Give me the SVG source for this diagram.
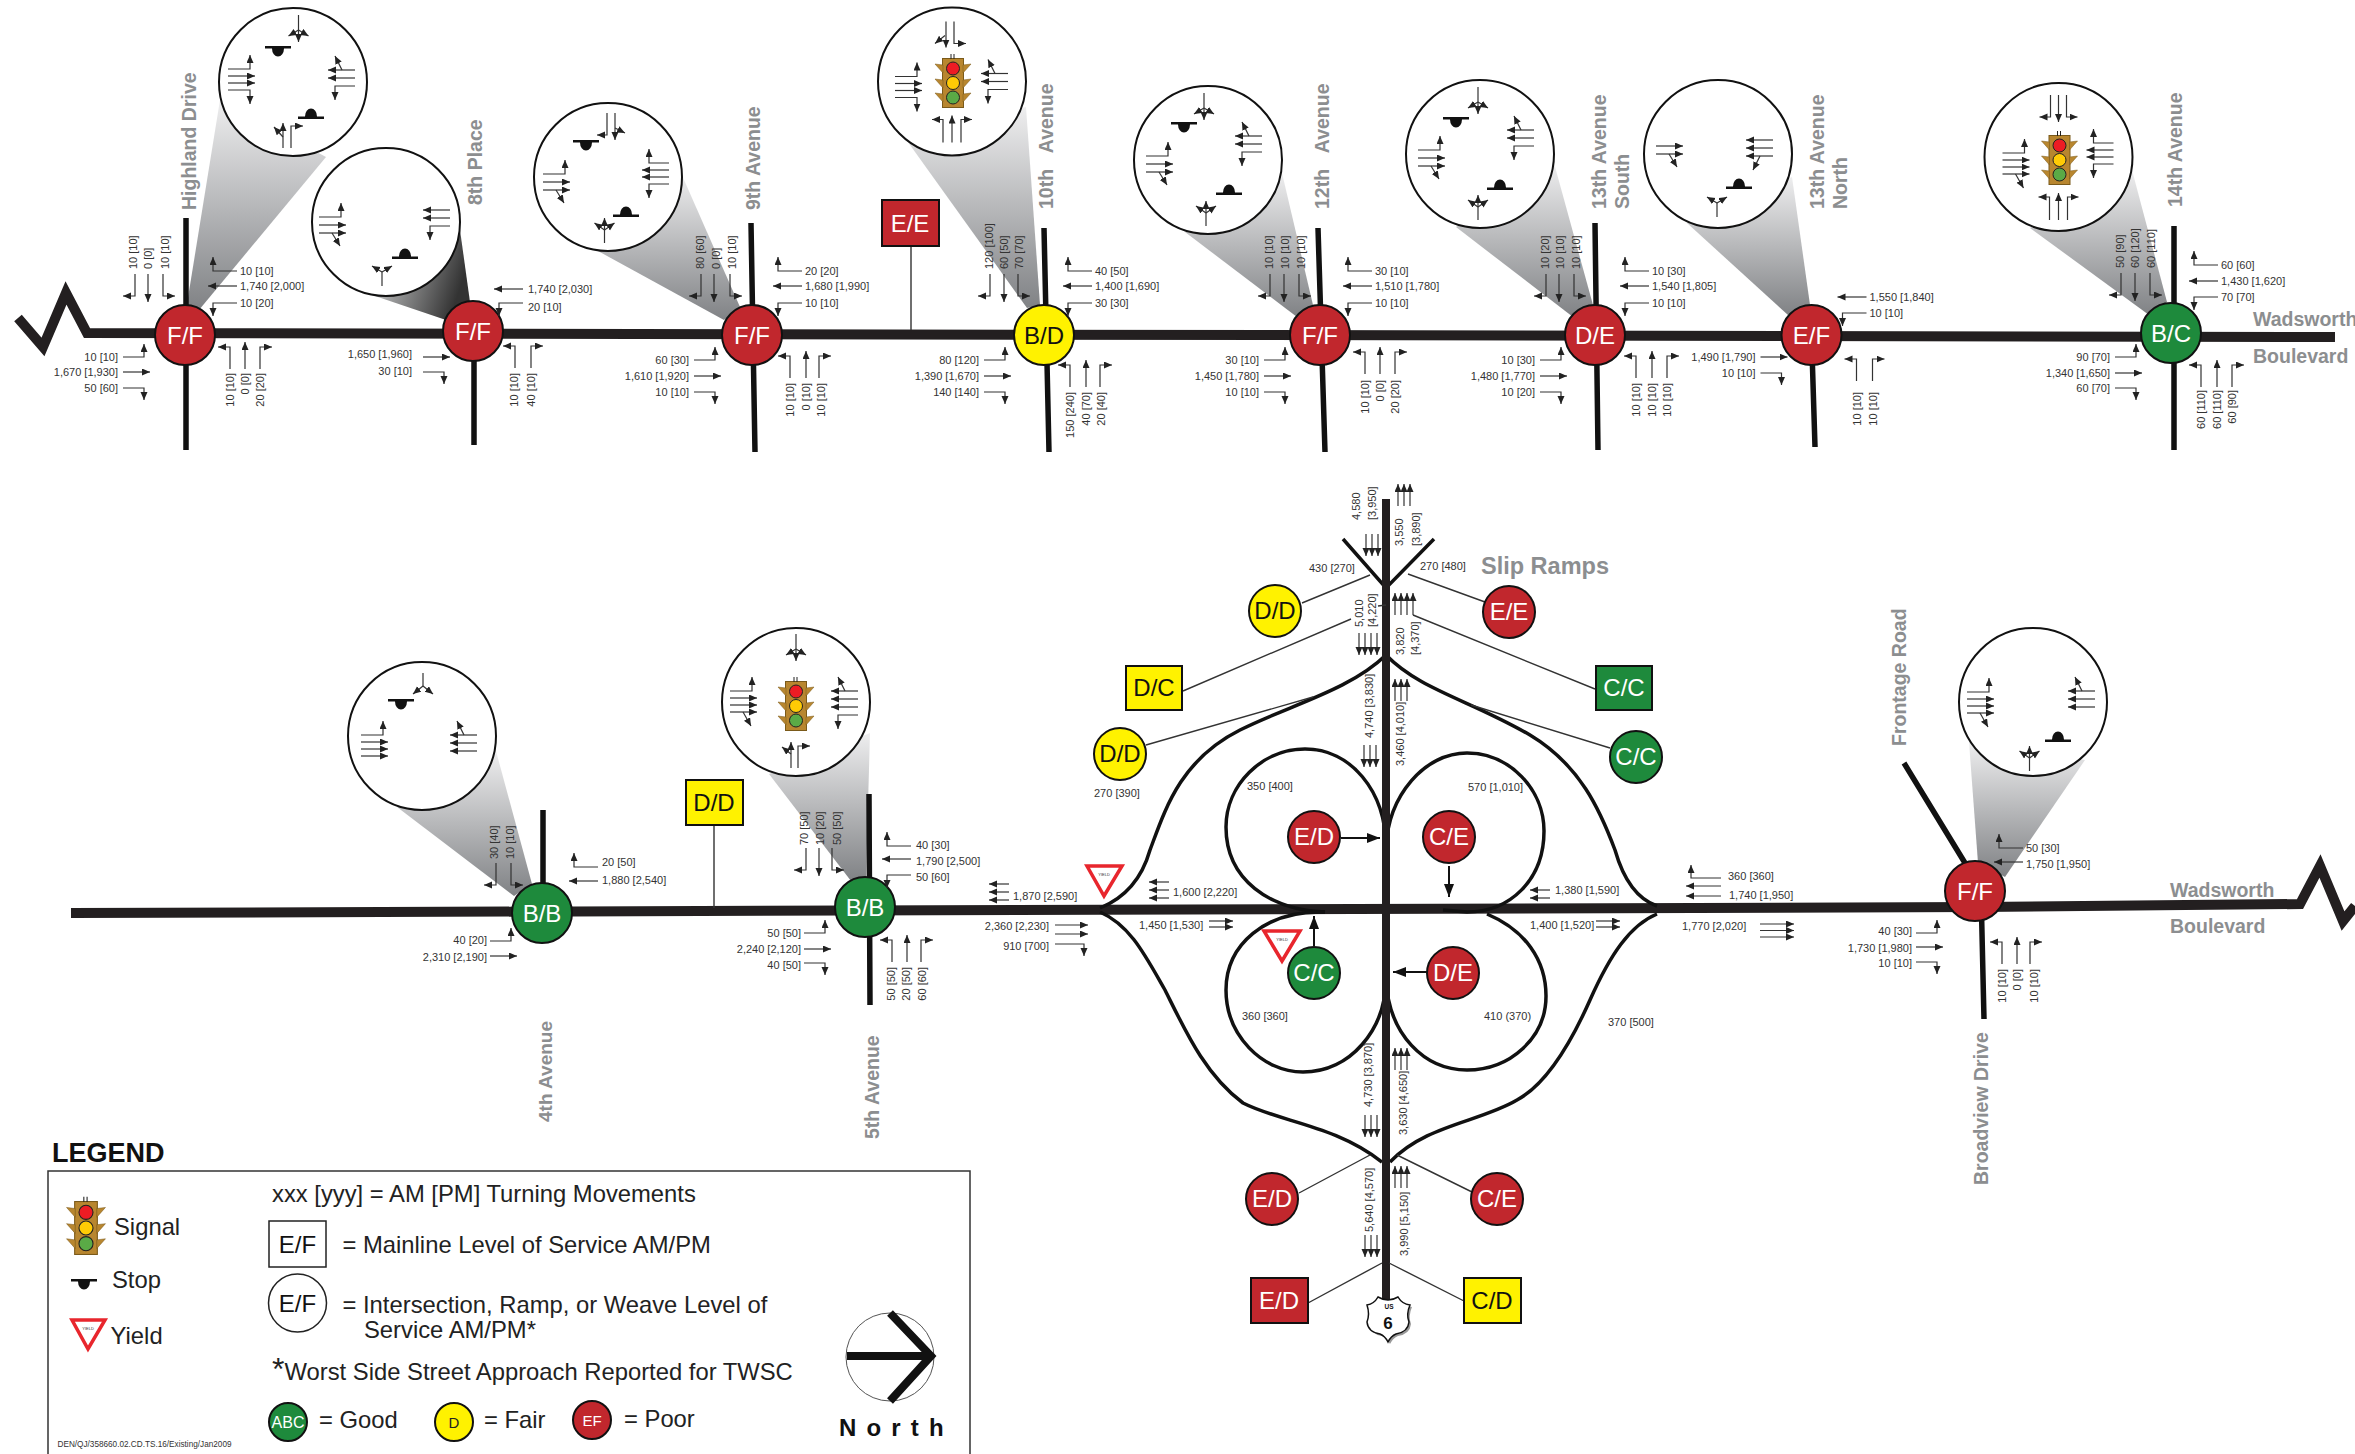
<svg xmlns="http://www.w3.org/2000/svg" width="2355" height="1454" viewBox="0 0 2355 1454">
<style>
text{font-family:"Liberation Sans",Arial,sans-serif}
.m{fill:none;stroke:#333;stroke-width:1.2;marker-end:url(#h)}
.p{fill:none;stroke:#333;stroke-width:1.2}
.t text{font-size:11px;fill:#333}
.e{text-anchor:end}
.g{font-size:19.5px;font-weight:bold;fill:#8c8e90}
.road{fill:none;stroke:#231f20;stroke-width:10}
.st{fill:none;stroke:#111;stroke-width:5.5}
.rp{fill:none;stroke:#111;stroke-width:3.5}
.ld{fill:none;stroke:#333;stroke-width:1.4}
.c{fill:#fff;stroke:#111;stroke-width:2}
.R,.G,.Y{stroke:#111;stroke-width:2}
.R{fill:#c1272d}.G{fill:#1e8a3c}.Y{fill:#fff200}
.w,.k{font-size:24px;text-anchor:middle}
.w{fill:#fff}.k{fill:#111}
.l{font-size:23.8px;fill:#222}
.y{fill:#fff;stroke:#e8262d;stroke-width:3.5}
.yt{font-size:4px;text-anchor:middle;fill:#333}
</style>
<defs>
<marker id="h" markerUnits="userSpaceOnUse" markerWidth="9" markerHeight="8" refX="8" refY="3.5" orient="auto"><path d="M0,0L8,3.5L0,7Z" fill="#222"/></marker>
<marker id="b" markerUnits="userSpaceOnUse" markerWidth="14" markerHeight="10" refX="13" refY="5" orient="auto"><path d="M0,0L13,5L0,10Z" fill="#111"/></marker>
<linearGradient id="gv" x1="0" y1="0" x2="0" y2="1"><stop offset="0" stop-color="#eeeeef"/><stop offset="1" stop-color="#808285"/></linearGradient>
<linearGradient id="gd" x1="0" y1="0" x2="1" y2="0.3"><stop offset="0" stop-color="#d8d9da"/><stop offset="1" stop-color="#333"/></linearGradient>
<path id="wU" class="m" d="M-3,-4H-27V-18"/><path id="wT" class="m" d="M-3,-4H-32"/><path id="wD" class="m" d="M-3,-4H-27V9"/>
<path id="eU" class="m" d="M5,-4H26V-17"/><path id="eT" class="m" d="M5,-4H32"/><path id="eD" class="m" d="M5,-4H26V8"/>
<path id="sL" class="m" d="M0,5V27H-12"/><path id="sT" class="m" d="M0,5V33"/><path id="sR" class="m" d="M0,5V27H12"/>
<path id="nL" class="m" d="M0,-4V-26H-12"/><path id="nT" class="m" d="M0,-4V-31"/><path id="nR" class="m" d="M0,-4V-26H12"/>
<g id="D3"><path class="m" d="M0,0V22"/><path class="m" d="M6,0V22"/><path class="m" d="M12,0V22"/></g>
<g id="D4"><path class="m" d="M0,0V22"/><path class="m" d="M6,0V22"/><path class="m" d="M12,0V22"/><path class="m" d="M18,0V22"/></g>
<g id="U3"><path class="m" d="M0,0V-22"/><path class="m" d="M6,0V-22"/><path class="m" d="M12,0V-22"/></g>
<g id="U4"><path class="m" d="M0,0V-22"/><path class="m" d="M6,0V-22"/><path class="m" d="M12,0V-22"/><path class="m" d="M18,0V-22"/></g>
<g id="W3"><path class="m" d="M0,0H-20"/><path class="m" d="M0,8H-20"/><path class="m" d="M0,16H-20"/></g>
<g id="W2"><path class="m" d="M0,0H-20"/><path class="m" d="M0,8H-20"/></g>
<g id="E2"><path class="m" d="M0,0H24"/><path class="m" d="M0,6H24"/></g>
<g id="E3"><path class="m" d="M0,0H34"/><path class="m" d="M0,6.5H34"/><path class="m" d="M0,13H34"/></g>
<g id="L4"><path class="m" d="M0,-11H22V-25"/><path class="m" d="M0,-4H27"/><path class="m" d="M0,3H27"/><path class="m" d="M0,10H22V24"/></g>
<g id="L4S"><path class="m" d="M0,-11H22V-25"/><path class="m" d="M0,-4H27"/><path class="m" d="M0,3H27"/><path class="m" d="M0,10H27"/><path class="m" d="M13,10L21,24"/></g>
<g id="L4T"><path class="m" d="M0,-11H22V-25"/><path class="m" d="M0,-4H27"/><path class="m" d="M0,3H27"/><path class="m" d="M0,10H27"/></g>
<g id="L3S"><path class="m" d="M0,-8H22V-22"/><path class="m" d="M0,0H27"/><path class="m" d="M0,8H27"/><path class="m" d="M13,8L21,21"/></g>
<g id="L2S"><path class="m" d="M0,-4H27"/><path class="m" d="M0,4H27"/><path class="m" d="M13,4L21,17"/></g>
<g id="R3"><path class="m" d="M0,-8H-27"/><path class="m" d="M-13,-8L-20,-22"/><path class="m" d="M0,0H-27"/><path class="m" d="M0,8H-20V22"/></g>
<g id="R4"><path class="m" d="M0,-11H-20V-25"/><path class="m" d="M0,-4H-27"/><path class="m" d="M0,3H-27"/><path class="m" d="M0,10H-20V24"/></g>
<g id="R3T"><path class="m" d="M0,-8H-27"/><path class="m" d="M0,0H-27"/><path class="m" d="M0,8H-20V22"/></g>
<g id="R3S"><path class="m" d="M0,-8H-27"/><path class="m" d="M-13,-8L-20,-22"/><path class="m" d="M0,0H-27"/><path class="m" d="M0,8H-27"/></g>
<g id="R4S"><path class="m" d="M0,-12H-27"/><path class="m" d="M-13,-12L-20,-26"/><path class="m" d="M0,-4H-27"/><path class="m" d="M0,4H-27"/><path class="m" d="M0,12H-20V26"/></g>
<g id="R3Y"><path class="m" d="M0,-8H-27"/><path class="m" d="M0,0H-27"/><path class="m" d="M0,8H-27"/><path class="m" d="M-13,8L-20,22"/></g>
<g id="T3"><path class="p" d="M0,0V15"/><path class="m" d="M0,15L-10,21"/><path class="m" d="M0,15V27"/><path class="m" d="M0,15L10,21"/></g>
<g id="B3"><path class="p" d="M0,0V-13"/><path class="m" d="M0,-13L-10,-20"/><path class="m" d="M0,-13V-25"/><path class="m" d="M0,-13L10,-20"/></g>
<g id="BY"><path class="p" d="M0,0V-14"/><path class="m" d="M0,-14L-10,-20"/><path class="m" d="M0,-14L10,-20"/></g>
<g id="TY"><path class="p" d="M0,0V13"/><path class="m" d="M0,13L-10,21"/><path class="m" d="M0,13L10,21"/></g>
<g id="TLR"><path class="m" d="M-8,0V22H-19"/><path class="m" d="M0,0V27"/><path class="m" d="M8,0V22H19"/></g>
<g id="BLR"><path class="m" d="M-9,0V-23H-20"/><path class="m" d="M0,0V-27"/><path class="m" d="M9,0V-23H20"/></g>
<path id="ST" d="M-13,-1H13V1.5H6A6,8 0 0 1 -6,1.5H-13Z" fill="#111"/>
<path id="SB" d="M-13,1H13V-1.5H6A6,8 0 0 0 -6,-1.5H-13Z" fill="#111"/>
<g id="SG"><rect x="-10.5" y="-24.5" width="21" height="49" fill="#b8862f" stroke="#7a5a1a"/><path d="M-10,-18L-18,-19L-10,-10ZM10,-18L18,-19L10,-10ZM-10,-3L-18,-4L-10,5ZM10,-3L18,-4L10,5ZM-10,11L-18,10L-10,19ZM10,11L18,10L10,19Z" fill="#b8862f" stroke="#7a5a1a" stroke-width=".5"/><path d="M-2,-29V-24M1,-29V-24" stroke="#222" stroke-width="1"/><circle cy="-14.5" r="6.5" fill="#ed1c24" stroke="#222"/><circle r="6.5" fill="#ffcb05" stroke="#222"/><circle cy="14.5" r="6.5" fill="#5aaa46" stroke="#222"/></g>
</defs>

<rect width="2355" height="1454" fill="#fff"/>

<g id="cones">
<polygon fill="url(#gv)" points="220,100 326,157 199,310 186,310"/>
<polygon fill="url(#gd)" points="375,296 460,230 470,302 446,320"/>
<polygon fill="url(#gv)" points="598,251 681,173 740,307 724,320"/>
<polygon fill="url(#gv)" points="905,138 1026,107 1040,305 1027,308"/>
<polygon fill="url(#gv)" points="1185,232 1282,173 1313,305 1297,317"/>
<polygon fill="url(#gv)" points="1456,227 1554,163 1593,305 1573,317"/>
<polygon fill="url(#gv)" points="1687,223 1792,177 1810,305 1788,315"/>
<polygon fill="url(#gv)" points="2030,228 2132,170 2167,302 2149,315"/>
<polygon fill="url(#gv)" points="397,807 496,751 532,884 514,896"/>
<polygon fill="url(#gv)" points="769,774 870,733 866,877 851,881"/>
<polygon fill="url(#gv)" points="1969,742 2085,760 2005,877 1978,863"/>
</g>

<g id="connectors">
<path class="road" d="M18,318L43,347L66,293L87,333L2335,337"/>
<path class="road" d="M71,913L1980,907L2300,904L2320,866L2343,921L2355,906"/>
<path class="st" d="M186,218V450M474,331V445M751,223L755,452M1044,228L1049,452M1318,228L1325,452M1595,223L1598,450M1811.5,335L1815,447M2174,226V450"/>
<path class="st" d="M543,810V885M869,794L870,1005M1981,890L1984,1019M1904,763L1965,863"/>
<path class="rp" d="M1343,539L1386,588L1434,539"/>
<path class="rp" d="M1386,655C1350,690 1290,705 1240,730C1180,760 1165,810 1150,850C1140,885 1120,900 1100,908"/>
<path class="rp" d="M1386,655C1420,690 1470,700 1530,735C1580,765 1600,810 1615,850C1625,885 1640,900 1657,906"/>
<path class="rp" d="M1100,912C1130,925 1145,955 1165,990C1185,1030 1205,1075 1243,1103C1280,1122 1335,1125 1382,1162"/>
<path class="rp" d="M1657,914C1630,925 1610,955 1590,1000C1570,1045 1545,1085 1517,1100C1480,1122 1425,1125 1390,1162"/>
<path class="rp" d="M1386,848C1386,790 1350,749 1305,749C1262,749 1226,785 1226,827C1226,880 1270,910 1325,912"/>
<path class="rp" d="M1386,848C1388,795 1425,753 1467,753C1510,753 1544,790 1544,831C1544,880 1510,912 1467,912L1443,910"/>
<path class="rp" d="M1325,912C1265,910 1226,945 1226,990C1226,1035 1262,1072 1303,1072C1350,1072 1386,1030 1386,978"/>
<path class="rp" d="M1487,914C1525,930 1546,960 1546,996C1546,1038 1510,1070 1467,1070C1425,1070 1388,1035 1386,978"/>
<path d="M1386,499V1300" fill="none" stroke="#231f20" stroke-width="8"/>
<path class="ld" d="M1302,603L1370,575M1485,602L1408,574M1183,691L1351,619M1595,689L1413,615M1146,745L1313,697M1610,748L1471,705M1299,1193L1370,1155M1472,1192L1397,1155M1308,1303L1382,1263M1464,1301L1389,1263M1378,606L1386,605"/>
<path class="ld" d="M911,246V330M714,825V908"/>
</g>

<g id="callouts">
<g id="c1" transform="translate(293,82)"><circle class="c" r="74"/><use href="#L4" x="-65" y="-2"/><use href="#R3" x="62" y="-4"/><use href="#T3" x="5.5" y="-67"/><use href="#ST" x="-15" y="-35"/><use href="#SB" x="18" y="36"/><path class="m" d="M-10,66V41"/><path class="m" d="M-10,55L-19,45"/><path class="m" d="M-2,66V44H10"/></g>
<g id="c2" transform="translate(386,222)"><circle class="c" r="74"/><use href="#L3S" x="-67" y="3"/><use href="#R3T" x="64" y="-4"/><use href="#BY" x="-4" y="64"/><use href="#SB" x="19" y="36"/></g>
<g id="c3" transform="translate(608,177)"><circle class="c" r="74"/><use href="#L3S" x="-65" y="5"/><use href="#R4" x="61" y="-3"/><path class="m" d="M-1,-64V-42H-11"/><path class="m" d="M7,-64V-37"/><path class="m" d="M7,-49L17,-44"/><use href="#ST" x="-22" y="-36"/><use href="#SB" x="18" y="39"/><use href="#B3" x="-3.5" y="66"/></g>
<g id="c4" transform="translate(952,81.5)"><circle class="c" r="74"/><use href="#L4" x="-57" y="6"/><use href="#R3" x="56" y="0"/><path class="m" d="M-6,-60V-34"/><path class="m" d="M-7,-46L-17,-38"/><path class="m" d="M2,-60V-38H14"/><use href="#BLR" x="0" y="61"/><use href="#SG" x="1" y="1.5"/></g>
<g id="c5" transform="translate(1208,160)"><circle class="c" r="74"/><use href="#L3S" x="-62" y="4"/><use href="#R3" x="54" y="-16"/><use href="#T3" x="-4" y="-67"/><use href="#ST" x="-24" y="-37"/><use href="#SB" x="21" y="34"/><use href="#B3" x="-2" y="66"/></g>
<g id="c6" transform="translate(1480,154)"><circle class="c" r="74"/><use href="#L3S" x="-62" y="4"/><use href="#R3" x="54" y="-16"/><use href="#T3" x="-2" y="-67"/><use href="#ST" x="-24" y="-36"/><use href="#SB" x="20" y="35"/><use href="#B3" x="-2" y="66"/></g>
<g id="c7" transform="translate(1718,154)"><circle class="c" r="74"/><use href="#L2S" x="-62" y="-4"/><use href="#R3Y" x="55" y="-6"/><use href="#BY" x="-1" y="63"/><use href="#SB" x="21" y="34"/></g>
<g id="c8" transform="translate(2058.5,157)"><circle class="c" r="74"/><use href="#L4S" x="-56" y="7"/><use href="#R4" x="55" y="-3"/><use href="#TLR" x="0" y="-62"/><use href="#BLR" x="0" y="63"/><use href="#SG" x="1" y="3"/></g>
<g id="c9" transform="translate(422,736)"><circle class="c" r="74"/><use href="#L4T" x="-61" y="10"/><use href="#R3S" x="55" y="7"/><use href="#TY" x="1" y="-63"/><use href="#ST" x="-21" y="-36"/></g>
<g id="c10" transform="translate(796,702)"><circle class="c" r="74"/><use href="#L4S" x="-66" y="0"/><use href="#R4S" x="62" y="1"/><use href="#T3" x="0" y="-68"/><path class="m" d="M-5,66V40"/><path class="m" d="M-5,52L-14,45"/><path class="m" d="M2,66V44H14"/><use href="#SG" x="0" y="4"/></g>
<g id="c11" transform="translate(2033,702)"><circle class="c" r="74"/><use href="#L4S" x="-66" y="1"/><use href="#R3S" x="62" y="-3"/><use href="#B3" x="-3.5" y="69"/><use href="#SB" x="25" y="39"/></g>
</g>

<g id="street-labels" class="g">
<text transform="translate(196,210)rotate(-90)">Highland Drive</text>
<text transform="translate(482,205)rotate(-90)">8th Place</text>
<text transform="translate(760,210)rotate(-90)">9th Avenue</text>
<text transform="translate(1053,209)rotate(-90)">10th <tspan dx="11">Avenue</tspan></text>
<text transform="translate(1329,209)rotate(-90)">12th <tspan dx="11">Avenue</tspan></text>
<text transform="translate(1606,209)rotate(-90)">13th Avenue</text>
<text transform="translate(1629,209)rotate(-90)">South</text>
<text transform="translate(1824,209)rotate(-90)">13th Avenue</text>
<text transform="translate(1847,209)rotate(-90)">North</text>
<text transform="translate(2182,207)rotate(-90)">14th Avenue</text>
<text x="2253" y="326">Wadsworth</text>
<text x="2253" y="363">Boulevard</text>
<text transform="translate(552,1122)rotate(-90)" style="font-size:19px">4th Avenue</text>
<text transform="translate(879,1139)rotate(-90)">5th Avenue</text>
<text transform="translate(1988,1185)rotate(-90)">Broadview Drive</text>
<text transform="translate(1906,746)rotate(-90)">Frontage Road</text>
<text x="2170" y="897">Wadsworth</text>
<text x="2170" y="933">Boulevard</text>
<text x="1481" y="574" style="font-size:23.5px">Slip Ramps</text>
</g>

<g id="n1" class="t"><circle class="R" cx="185" cy="335" r="30"/><text class="w" x="185" y="344" style="font-size:24px;fill:#fff">F/F</text>
<use href="#wU" x="240" y="275"/><text x="240" y="275">10 [10]</text><use href="#wT" x="240" y="290"/><text x="240" y="290">1,740 [2,000]</text><use href="#wD" x="240" y="307"/><text x="240" y="307">10 [20]</text>
<use href="#eU" x="118" y="361"/><text class="e" x="118" y="361">10 [10]</text><use href="#eT" x="118" y="376"/><text class="e" x="118" y="376">1,670 [1,930]</text><use href="#eD" x="118" y="392"/><text class="e" x="118" y="392">50 [60]</text>
<use href="#sL" x="135" y="269"/><use href="#sT" x="148" y="269"/><use href="#sR" x="163" y="269"/><text transform="translate(137,269)rotate(-90)">10 [10]</text><text transform="translate(152,269)rotate(-90)">0 [0]</text><text transform="translate(169,269)rotate(-90)">10 [10]</text>
<use href="#nL" x="230" y="373"/><use href="#nT" x="245" y="373"/><use href="#nR" x="260" y="373"/><text class="e" transform="translate(234,373)rotate(-90)">10 [10]</text><text class="e" transform="translate(249,373)rotate(-90)">0 [0]</text><text class="e" transform="translate(264,373)rotate(-90)">20 [20]</text></g>

<g id="n2" class="t"><circle class="R" cx="473" cy="331" r="30"/><text class="w" x="473" y="340" style="font-size:24px;fill:#fff">F/F</text>
<use href="#wT" x="526" y="293"/><text x="528" y="293">1,740 [2,030]</text><use href="#wD" x="526" y="307"/><text x="528" y="311">20 [10]</text>
<use href="#eT" x="418" y="361"/><text class="e" x="412" y="358">1,650 [1,960]</text><use href="#eD" x="418" y="376"/><text class="e" x="412" y="375">30 [10]</text>
<use href="#nL" x="515" y="372"/><use href="#nR" x="531" y="372"/><text class="e" transform="translate(518,373)rotate(-90)">10 [10]</text><text class="e" transform="translate(535,373)rotate(-90)">40 [10]</text></g>

<g id="n3" class="t"><circle class="R" cx="752" cy="335" r="30"/><text class="w" x="752" y="344" style="font-size:24px;fill:#fff">F/F</text>
<use href="#wU" x="805" y="275"/><text x="805" y="275">20 [20]</text><use href="#wT" x="805" y="290"/><text x="805" y="290">1,680 [1,990]</text><use href="#wD" x="805" y="307"/><text x="805" y="307">10 [10]</text>
<use href="#eU" x="689" y="364"/><text class="e" x="689" y="364">60 [30]</text><use href="#eT" x="689" y="380"/><text class="e" x="689" y="380">1,610 [1,920]</text><use href="#eD" x="689" y="396"/><text class="e" x="689" y="396">10 [10]</text>
<use href="#sL" x="701" y="269"/><use href="#sT" x="714" y="269"/><use href="#sR" x="730" y="269"/><text transform="translate(704,269)rotate(-90)">80 [60]</text><text transform="translate(720,269)rotate(-90)">0 [0]</text><text transform="translate(736,269)rotate(-90)">10 [10]</text>
<use href="#nL" x="790" y="382"/><use href="#nT" x="806" y="382"/><use href="#nR" x="819" y="382"/><text class="e" transform="translate(794,383)rotate(-90)">10 [10]</text><text class="e" transform="translate(810,383)rotate(-90)">0 [10]</text><text class="e" transform="translate(825,383)rotate(-90)">10 [10]</text></g>

<g id="n4" class="t"><circle class="Y" cx="1044" cy="335" r="30"/><text class="k" x="1044" y="344" style="font-size:24px;fill:#111">B/D</text>
<use href="#wU" x="1095" y="275"/><text x="1095" y="275">40 [50]</text><use href="#wT" x="1095" y="290"/><text x="1095" y="290">1,400 [1,690]</text><use href="#wD" x="1095" y="307"/><text x="1095" y="307">30 [30]</text>
<use href="#eU" x="979" y="364"/><text class="e" x="979" y="364">80 [120]</text><use href="#eT" x="979" y="380"/><text class="e" x="979" y="380">1,390 [1,670]</text><use href="#eD" x="979" y="396"/><text class="e" x="979" y="396">140 [140]</text>
<use href="#sL" x="990" y="269"/><use href="#sT" x="1004" y="269"/><use href="#sR" x="1018" y="269"/><text transform="translate(993,269)rotate(-90)">120 [100]</text><text transform="translate(1008,269)rotate(-90)">60 [50]</text><text transform="translate(1023,269)rotate(-90)">70 [70]</text>
<use href="#nL" x="1070" y="391"/><use href="#nT" x="1086" y="391"/><use href="#nR" x="1100" y="391"/><text class="e" transform="translate(1074,392)rotate(-90)">150 [240]</text><text class="e" transform="translate(1090,392)rotate(-90)">40 [70]</text><text class="e" transform="translate(1105,392)rotate(-90)">20 [40]</text></g>

<g id="n5" class="t"><circle class="R" cx="1320" cy="335" r="30"/><text class="w" x="1320" y="344" style="font-size:24px;fill:#fff">F/F</text>
<use href="#wU" x="1375" y="275"/><text x="1375" y="275">30 [10]</text><use href="#wT" x="1375" y="290"/><text x="1375" y="290">1,510 [1,780]</text><use href="#wD" x="1375" y="307"/><text x="1375" y="307">10 [10]</text>
<use href="#eU" x="1259" y="364"/><text class="e" x="1259" y="364">30 [10]</text><use href="#eT" x="1259" y="380"/><text class="e" x="1259" y="380">1,450 [1,780]</text><use href="#eD" x="1259" y="396"/><text class="e" x="1259" y="396">10 [10]</text>
<use href="#sL" x="1270" y="269"/><use href="#sT" x="1284" y="269"/><use href="#sR" x="1299" y="269"/><text transform="translate(1273,269)rotate(-90)">10 [10]</text><text transform="translate(1289,269)rotate(-90)">10 [10]</text><text transform="translate(1305,269)rotate(-90)">10 [10]</text>
<use href="#nL" x="1365" y="378"/><use href="#nT" x="1380" y="378"/><use href="#nR" x="1395" y="378"/><text class="e" transform="translate(1369,380)rotate(-90)">10 [10]</text><text class="e" transform="translate(1384,380)rotate(-90)">0 [0]</text><text class="e" transform="translate(1399,380)rotate(-90)">20 [20]</text></g>

<g id="n6" class="t"><circle class="R" cx="1595" cy="335" r="30"/><text class="w" x="1595" y="344" style="font-size:24px;fill:#fff">D/E</text>
<use href="#wU" x="1652" y="275"/><text x="1652" y="275">10 [30]</text><use href="#wT" x="1652" y="290"/><text x="1652" y="290">1,540 [1,805]</text><use href="#wD" x="1652" y="307"/><text x="1652" y="307">10 [10]</text>
<use href="#eU" x="1535" y="364"/><text class="e" x="1535" y="364">10 [30]</text><use href="#eT" x="1535" y="380"/><text class="e" x="1535" y="380">1,480 [1,770]</text><use href="#eD" x="1535" y="396"/><text class="e" x="1535" y="396">10 [20]</text>
<use href="#sL" x="1546" y="269"/><use href="#sT" x="1559" y="269"/><use href="#sR" x="1574" y="269"/><text transform="translate(1549,269)rotate(-90)">10 [20]</text><text transform="translate(1564,269)rotate(-90)">10 [10]</text><text transform="translate(1580,269)rotate(-90)">10 [10]</text>
<use href="#nL" x="1636" y="382"/><use href="#nT" x="1652" y="382"/><use href="#nR" x="1667" y="382"/><text class="e" transform="translate(1640,383)rotate(-90)">10 [10]</text><text class="e" transform="translate(1656,383)rotate(-90)">10 [10]</text><text class="e" transform="translate(1671,383)rotate(-90)">10 [10]</text></g>

<g id="n7" class="t" transform="translate(-1.5,0)"><circle class="R" cx="1813" cy="335" r="30"/><text class="w" x="1813" y="344" style="font-size:24px;fill:#fff">E/F</text>
<use href="#wT" x="1871" y="301"/><text x="1871" y="301">1,550 [1,840]</text><use href="#wD" x="1871" y="317"/><text x="1871" y="317">10 [10]</text>
<use href="#eT" x="1757" y="361"/><text class="e" x="1757" y="361">1,490 [1,790]</text><use href="#eD" x="1757" y="377"/><text class="e" x="1757" y="377">10 [10]</text>
<use href="#nL" x="1858" y="385"/><use href="#nR" x="1874" y="385"/><text class="e" transform="translate(1862,392)rotate(-90)">10 [10]</text><text class="e" transform="translate(1878,392)rotate(-90)">10 [10]</text></g>

<g id="n8" class="t" transform="translate(-4,0)"><circle class="G" cx="2175" cy="333" r="30"/><text class="w" x="2175" y="342" style="font-size:24px;fill:#fff">B/C</text>
<use href="#wU" x="2225" y="269"/><text x="2225" y="269">60 [60]</text><use href="#wT" x="2225" y="285"/><text x="2225" y="285">1,430 [1,620]</text><use href="#wD" x="2225" y="301"/><text x="2225" y="301">70 [70]</text>
<use href="#eU" x="2114" y="361"/><text class="e" x="2114" y="361">90 [70]</text><use href="#eT" x="2114" y="377"/><text class="e" x="2114" y="377">1,340 [1,650]</text><use href="#eD" x="2114" y="392"/><text class="e" x="2114" y="392">60 [70]</text>
<use href="#sL" x="2125" y="268"/><use href="#sT" x="2139" y="268"/><use href="#sR" x="2154" y="268"/><text transform="translate(2128,268)rotate(-90)">50 [90]</text><text transform="translate(2143,268)rotate(-90)">60 [120]</text><text transform="translate(2159,268)rotate(-90)">60 [110]</text>
<use href="#nL" x="2205" y="391"/><use href="#nT" x="2221" y="391"/><use href="#nR" x="2236" y="391"/><text class="e" transform="translate(2209,390)rotate(-90)">60 [110]</text><text class="e" transform="translate(2225,390)rotate(-90)">60 [110]</text><text class="e" transform="translate(2240,390)rotate(-90)">60 [90]</text></g>

<g id="n9" class="t"><circle class="G" cx="542" cy="913" r="30"/><text class="w" x="542" y="922" style="font-size:24px;fill:#fff">B/B</text>
<use href="#wU" x="601" y="871"/><text x="602" y="866">20 [50]</text><use href="#wT" x="601" y="885"/><text x="602" y="884">1,880  [2,540]</text>
<use href="#eU" x="485" y="945"/><text class="e" x="487" y="944">40 [20]</text><use href="#eT" x="485" y="960"/><text class="e" x="487" y="961">2,310 [2,190]</text>
<use href="#sL" x="496" y="858"/><use href="#sR" x="511" y="858"/><text transform="translate(498,859)rotate(-90)">30 [40]</text><text transform="translate(514,859)rotate(-90)">10 [10]</text></g>

<g id="n10" class="t"><circle class="G" cx="865" cy="907" r="30"/><text class="w" x="865" y="916" style="font-size:24px;fill:#fff">B/B</text>
<use href="#wU" x="914" y="850"/><text x="916" y="849">40 [30]</text><use href="#wT" x="914" y="863"/><text x="916" y="865">1,790 [2,500]</text><use href="#wD" x="914" y="879"/><text x="916" y="881">50 [60]</text>
<use href="#eU" x="799" y="937"/><text class="e" x="801" y="937">50 [50]</text><use href="#eT" x="799" y="953"/><text class="e" x="801" y="953">2,240 [2,120]</text><use href="#eD" x="799" y="967"/><text class="e" x="801" y="969">40 [50]</text>
<use href="#sL" x="806" y="843"/><use href="#sT" x="819" y="843"/><use href="#sR" x="832" y="843"/><text transform="translate(808,845)rotate(-90)">70 [50]</text><text transform="translate(824,845)rotate(-90)">10 [20]</text><text transform="translate(841,845)rotate(-90)">50 [50]</text>
<use href="#nL" x="892" y="966"/><use href="#nT" x="907" y="966"/><use href="#nR" x="921" y="966"/><text class="e" transform="translate(895,967)rotate(-90)">50 [50]</text><text class="e" transform="translate(910,967)rotate(-90)">20 [50]</text><text class="e" transform="translate(926,967)rotate(-90)">60 [60]</text></g>

<g id="n11" class="t"><circle class="R" cx="1975" cy="891" r="30"/><text class="w" x="1975" y="900" style="font-size:24px;fill:#fff">F/F</text>
<use href="#wU" x="2026" y="852"/><text x="2026" y="852">50 [30]</text><use href="#wT" x="2026" y="866"/><text x="2026" y="868">1,750 [1,950]</text>
<use href="#eU" x="1911" y="937"/><text class="e" x="1912" y="935">40 [30]</text><use href="#eT" x="1911" y="951"/><text class="e" x="1912" y="952">1,730 [1,980]</text><use href="#eD" x="1911" y="966"/><text class="e" x="1912" y="967">10 [10]</text>
<use href="#nL" x="2002" y="968"/><use href="#nT" x="2017" y="968"/><use href="#nR" x="2030" y="968"/><text class="e" transform="translate(2006,969)rotate(-90)">10 [10]</text><text class="e" transform="translate(2021,969)rotate(-90)">0 [0]</text><text class="e" transform="translate(2038,969)rotate(-90)">10 [10]</text></g>

<g id="interchange-counts" class="t">
<use href="#W3" x="1009" y="884"/><text x="1013" y="900">1,870 [2,590]</text>
<text class="e" x="1049" y="930">2,360 [2,230]</text><text class="e" x="1049" y="950">910 [700]</text><path class="m" d="M1055,925H1088"/><path class="m" d="M1055,934H1088"/><path class="m" d="M1055,944H1084V956"/>
<use href="#W3" x="1169" y="882"/><text x="1173" y="896">1,600 [2,220]</text>
<text x="1139" y="929">1,450 [1,530]</text><use href="#E2" x="1209" y="921"/>
<use href="#W2" x="1550" y="890"/><text x="1555" y="894">1,380 [1,590]</text>
<text x="1530" y="929">1,400 [1,520]</text><use href="#E2" x="1596" y="921"/>
<path class="m" d="M1721,878H1691V865"/><path class="m" d="M1721,886H1686"/><path class="m" d="M1721,896H1686"/><text x="1728" y="880">360 [360]</text><text x="1729" y="899">1,740 [1,950]</text>
<text x="1682" y="930">1,770 [2,020]</text><use href="#E3" x="1760" y="924"/>
<text x="1247" y="790">350 [400]</text><text x="1468" y="791">570 [1,010]</text><text x="1242" y="1020">360 [360]</text><text x="1484" y="1020">410 (370)</text><text x="1608" y="1026">370 [500]</text><text x="1094" y="797">270 [390]</text><text x="1309" y="572">430 [270]</text><text x="1420" y="570">270 [480]</text>
<text transform="translate(1360,520)rotate(-90)">4,580</text><text transform="translate(1376,520)rotate(-90)">[3,950]</text><use href="#D3" x="1366" y="534"/>
<text transform="translate(1403,546)rotate(-90)">3,550</text><text transform="translate(1420,546)rotate(-90)">[3,890]</text><use href="#U3" x="1398" y="506"/>
<text transform="translate(1363,627)rotate(-90)">5,010</text><text transform="translate(1376,627)rotate(-90)">[4,220]</text><use href="#D4" x="1359" y="633"/>
<text transform="translate(1404,655)rotate(-90)">3,820</text><text transform="translate(1419,655)rotate(-90)">[4,370]</text><use href="#U4" x="1395" y="615"/>
<text transform="translate(1373,738)rotate(-90)">4,740 [3,830]</text><use href="#D3" x="1364" y="745"/>
<text transform="translate(1404,766)rotate(-90)">3,460 [4,010]</text><use href="#U3" x="1395" y="701"/>
<text transform="translate(1372,1107)rotate(-90)">4,730 [3,870]</text><use href="#D3" x="1365" y="1115"/>
<text transform="translate(1407,1135)rotate(-90)">3,630 [4,650]</text><use href="#U3" x="1395" y="1070"/>
<text transform="translate(1373,1232)rotate(-90)">5,640 [4,570]</text><use href="#D3" x="1365" y="1235"/>
<text transform="translate(1408,1256)rotate(-90)">3,990 [5,150]</text><use href="#U3" x="1395" y="1188"/>
</g>

<g id="ramp-arrows" fill="none" stroke="#111" stroke-width="2">
<path marker-end="url(#b)" d="M1341,838H1380"/><path marker-end="url(#b)" d="M1449,866V897"/><path marker-end="url(#b)" d="M1314,946V916"/><path marker-end="url(#b)" d="M1427,972H1393"/>
</g>

<g id="yield-1"><polygon class="y" points="1087,866 1122,866 1104,896"/><text class="yt" x="1104" y="876">YIELD</text></g>
<g id="yield-2"><polygon class="y" points="1264,931 1300,931 1282,961"/><text class="yt" x="1282" y="941">YIELD</text></g>

<g id="r1"><circle class="Y" cx="1275" cy="611" r="26"/><text class="k" x="1275" y="619">D/D</text></g>
<g id="r2"><circle class="R" cx="1509" cy="612" r="26"/><text class="w" x="1509" y="620">E/E</text></g>
<g id="r3"><rect class="Y" x="1126" y="666" width="56" height="44"/><text class="k" x="1154" y="696">D/C</text></g>
<g id="r4"><rect class="G" x="1596" y="666" width="56" height="44"/><text class="w" x="1624" y="696">C/C</text></g>
<g id="r5"><circle class="Y" cx="1120" cy="754" r="26"/><text class="k" x="1120" y="762">D/D</text></g>
<g id="r6"><circle class="G" cx="1636" cy="757" r="26"/><text class="w" x="1636" y="765">C/C</text></g>
<g id="r7"><circle class="R" cx="1314" cy="837" r="26"/><text class="w" x="1314" y="845">E/D</text></g>
<g id="r8"><circle class="R" cx="1449" cy="837" r="26"/><text class="w" x="1449" y="845">C/E</text></g>
<g id="r9"><circle class="G" cx="1314" cy="973" r="26"/><text class="w" x="1314" y="981">C/C</text></g>
<g id="r10"><circle class="R" cx="1453" cy="973" r="26"/><text class="w" x="1453" y="981">D/E</text></g>
<g id="r11"><circle class="R" cx="1272" cy="1199" r="26"/><text class="w" x="1272" y="1207">E/D</text></g>
<g id="r12"><circle class="R" cx="1497" cy="1199" r="26"/><text class="w" x="1497" y="1207">C/E</text></g>
<g id="r13"><rect class="R" x="1251" y="1278" width="57" height="45"/><text class="w" x="1279" y="1309">E/D</text></g>
<g id="r14"><rect class="Y" x="1464" y="1278" width="57" height="45"/><text class="k" x="1492" y="1309">C/D</text></g>
<g id="m1"><rect class="R" x="882" y="200" width="57" height="46"/><text class="w" x="910" y="232">E/E</text></g>
<g id="m2"><rect class="Y" x="686" y="780" width="57" height="45"/><text class="k" x="714" y="811">D/D</text></g>

<g id="us6">
<path transform="translate(2,2)" fill="#999" d="M1367,1305Q1374,1304 1378,1297Q1388,1303 1398,1297Q1402,1304 1410,1305Q1406,1314 1409,1322Q1408,1332 1396,1334Q1391,1336 1388,1342Q1385,1336 1380,1334Q1368,1332 1367,1322Q1370,1314 1367,1305Z"/>
<path fill="#fff" stroke="#111" stroke-width="1.5" d="M1367,1305Q1374,1304 1378,1297Q1388,1303 1398,1297Q1402,1304 1410,1305Q1406,1314 1409,1322Q1408,1332 1396,1334Q1391,1336 1388,1342Q1385,1336 1380,1334Q1368,1332 1367,1322Q1370,1314 1367,1305Z"/>
<text x="1389" y="1309" text-anchor="middle" font-size="6.5" font-weight="bold" fill="#111">US</text>
<text x="1388" y="1329" text-anchor="middle" font-size="17" font-weight="bold" fill="#111">6</text>
</g>

<g id="legend">
<text x="52" y="1162" font-size="27" font-weight="bold" fill="#111">LEGEND</text>
<rect x="48" y="1171" width="922" height="300" fill="none" stroke="#333" stroke-width="1.5"/>
<use href="#SG" transform="translate(86,1228) scale(1.08)"/>
<text class="l" x="114" y="1235">Signal</text>
<use href="#ST" x="84" y="1280"/>
<text class="l" x="112" y="1288">Stop</text>
<polygon class="y" points="72,1320 105,1320 88,1349"/><text class="yt" x="88" y="1330">YIELD</text>
<text class="l" x="110.6" y="1344">Yield</text>
<text class="l" x="272" y="1202">xxx [yyy] = AM [PM] Turning Movements</text>
<rect x="269" y="1221" width="57" height="46" fill="#fff" stroke="#222" stroke-width="1.5"/><text class="k" x="297.5" y="1253">E/F</text>
<text class="l" x="342.5" y="1253">= Mainline Level of Service AM/PM</text>
<circle cx="297.5" cy="1303" r="29" fill="#fff" stroke="#222" stroke-width="1.5"/><text class="k" x="297.5" y="1312">E/F</text>
<text class="l" x="342.5" y="1313">= Intersection, Ramp, or Weave Level of</text>
<text class="l" x="364" y="1338">Service AM/PM*</text>
<text class="l" x="272" y="1380"><tspan font-size="32">*</tspan>Worst Side Street Approach Reported for TWSC</text>
<circle class="G" cx="288" cy="1422" r="19"/><text x="288" y="1428" text-anchor="middle" font-size="16" fill="#fff">ABC</text>
<text class="l" x="319" y="1428">= Good</text>
<circle class="Y" cx="454" cy="1422" r="19"/><text x="454" y="1428" text-anchor="middle" font-size="15" fill="#222">D</text>
<text class="l" x="484" y="1428">= Fair</text>
<circle class="R" cx="592" cy="1420" r="19"/><text x="592" y="1426" text-anchor="middle" font-size="15" fill="#fff">EF</text>
<text class="l" x="624" y="1427">= Poor</text>
<text x="57.5" y="1447" font-size="9" fill="#333" textLength="174" lengthAdjust="spacingAndGlyphs">DEN/QJ/358660.02.CD.TS.16/Existing/Jan2009</text>
<circle cx="890" cy="1357" r="44" fill="#fff" stroke="#555" stroke-width="1"/>
<path d="M847,1356H928M890,1313L931,1356L890,1401" fill="none" stroke="#111" stroke-width="8"/>
<text x="839" y="1436" font-size="24" font-weight="bold" fill="#111" word-spacing="3.5">N o r t h</text>
</g>
</svg>
